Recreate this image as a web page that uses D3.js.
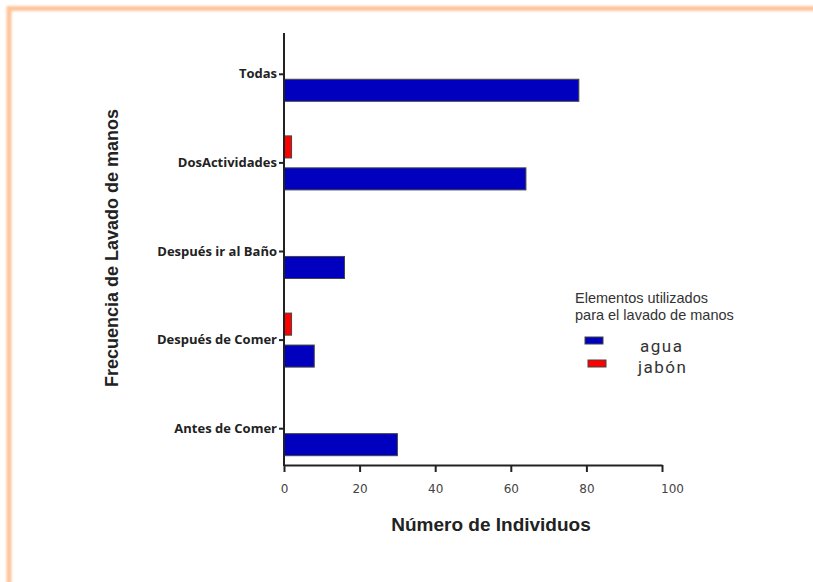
<!DOCTYPE html>
<html>
<head>
<meta charset="utf-8">
<script src="https://cdn.jsdelivr.net/npm/d3@7"></script>
<style>
  html, body { margin: 0; padding: 0; background: #fff; }
  svg { display: block; }
</style>
</head>
<body>
<svg id="chart" width="813" height="582"></svg>
<script>
// ---- data ----
const categories = ["Todas", "DosActividades", "Después ir al Baño", "Después de Comer", "Antes de Comer"];
const series = ["jabón", "agua"];
const aguaValues = [78, 64, 16, 8, 30];
const jabonValues = [0, 2, 0, 2, 0];
const xTicks = [0, 20, 40, 60, 80, 100];
const seriesColors = { "agua": "#0000BE", "jabón": "#FF0000" };
const legendTitle = ["Elementos utilizados", "para el lavado de manos"];
const legendOrder = ["agua", "jabón"];

const rows = categories.map((c, i) => ({ cat: c, values: { "agua": aguaValues[i], "jabón": jabonValues[i] } }));

const svg = d3.select("#chart");

// orange frame (top and left edges)
const defs = svg.append("defs");
defs.append("filter").attr("id", "blur")
  .append("feGaussianBlur").attr("stdDeviation", 1.3);
svg.append("path")
  .attr("d", "M9,600 V8.5 H830")
  .attr("fill", "none")
  .attr("stroke", "#FFC59C")
  .attr("stroke-width", 5)
  .attr("filter", "url(#blur)");

// scales
const x = d3.scaleLinear().domain([0, 100]).range([284, 662]);
const y = d3.scaleBand().domain(categories).range([30, 473]).padding(0);
const yInner = d3.scaleBand().domain(series).range([-27, 27]).paddingInner(0.31);

// bars
const g = svg.append("g");
rows.forEach(r => {
  const cy = y(r.cat) + y.bandwidth() / 2;
  series.forEach(s => {
    const v = r.values[s];
    if (v <= 0) return;
    g.append("rect")
      .attr("x", x(0))
      .attr("y", cy + yInner(s))
      .attr("width", x(v) - x(0))
      .attr("height", yInner.bandwidth())
      .attr("fill", seriesColors[s])
      .attr("stroke", "#444")
      .attr("stroke-width", 1);
  });
});

// y axis
const yAxis = d3.axisLeft(y).tickSize(5).tickSizeOuter(0).tickPadding(2);
const yg = svg.append("g").attr("transform", "translate(284,0)").call(yAxis);
yg.select(".domain").remove();
yg.selectAll(".tick line").attr("stroke", "#222").attr("stroke-width", 2);
yg.selectAll(".tick text")
  .attr("font-family", "'Open Sans', sans-serif")
  .attr("font-weight", 700)
  .attr("font-size", "13px")
  .attr("fill", "#222");
svg.append("line")
  .attr("x1", 284).attr("x2", 284)
  .attr("y1", 33).attr("y2", 466)
  .attr("stroke", "#222").attr("stroke-width", 2);

// x axis
const xAxis = d3.axisBottom(x).tickValues(xTicks).tickSize(7).tickSizeOuter(0).tickPadding(12);
const xg = svg.append("g").attr("transform", "translate(0,465)").call(xAxis);
xg.select(".domain").attr("stroke", "#222").attr("stroke-width", 2);
xg.selectAll(".tick line").attr("stroke", "#222").attr("stroke-width", 2);
xg.selectAll(".tick text")
  .attr("font-family", "'DejaVu Sans', sans-serif")
  .attr("font-size", "12px")
  .attr("fill", "#444")
  .attr("dx", d => d === 100 ? 10 : 0);

// axis titles
svg.append("text")
  .attr("transform", "translate(118,248) rotate(-90)")
  .attr("text-anchor", "middle")
  .attr("font-family", "'Liberation Sans', Arial, sans-serif")
  .attr("font-weight", 700)
  .attr("font-size", "18px")
  .attr("fill", "#222")
  .text("Frecuencia de Lavado de manos");

svg.append("text")
  .attr("x", 491).attr("y", 531)
  .attr("text-anchor", "middle")
  .attr("font-family", "'Liberation Sans', Arial, sans-serif")
  .attr("font-weight", 700)
  .attr("font-size", "19px")
  .attr("fill", "#222")
  .text("Número de Individuos");

// legend
const lg = svg.append("g");
legendTitle.forEach((t, i) => {
  lg.append("text")
    .attr("x", 575).attr("y", 303 + i * 17)
    .attr("font-family", "'Liberation Sans', Arial, sans-serif")
    .attr("font-size", "14.5px")
    .attr("fill", "#333")
    .text(t);
});
legendOrder.forEach((s, i) => {
  lg.append("rect")
    .attr("x", 585 + i * 3).attr("y", 337 + i * 23)
    .attr("width", 18).attr("height", 7)
    .attr("fill", seriesColors[s])
    .attr("stroke", "#444").attr("stroke-width", 1);
  lg.append("text")
    .attr("x", 640 - i * 2).attr("y", 352 + i * 21)
    .attr("font-family", "Roboto, sans-serif")
    .attr("font-size", "17px")
    .attr("letter-spacing", "1.5px")
    .attr("fill", "#333")
    .text(s);
});
</script>
</body>
</html>
